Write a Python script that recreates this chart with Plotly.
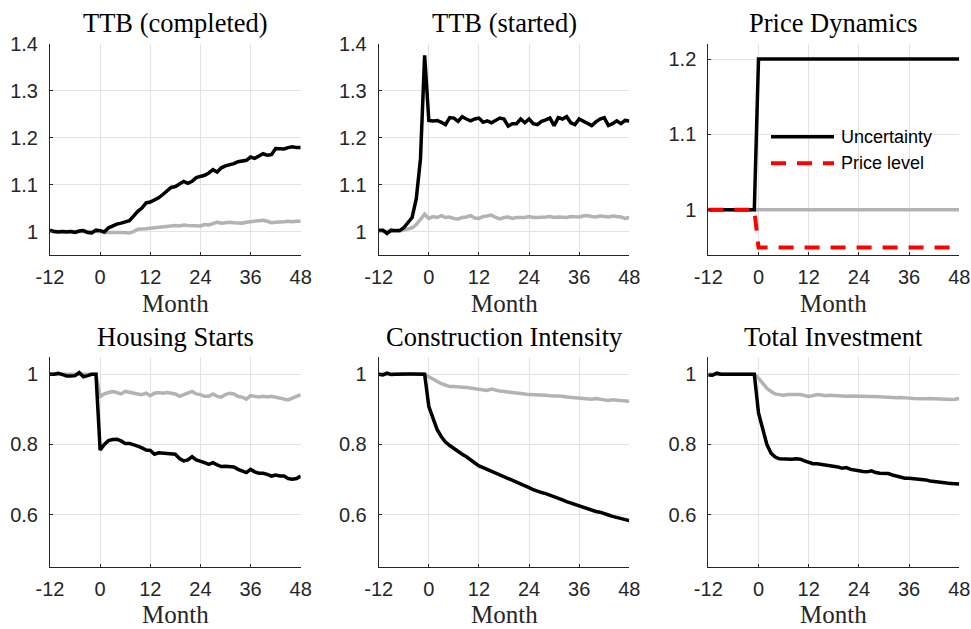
import plotly.graph_objects as go

months = list(range(-12, 49))
tick_months = [-12, 0, 12, 24, 36, 48]
tick_month_labels = ["-12", "0", "12", "24", "36", "48"]

titles = ["TTB (completed)", "TTB (started)", "Price Dynamics",
          "Housing Starts", "Construction Intensity", "Total Investment"]
legend_names = ["Uncertainty", "Price level"]

# ---- TTB (completed) ----
ttbc_black = [1.003, 1.000, 0.999, 1.000, 0.999, 1.000, 0.998, 1.001, 1.002, 0.998, 0.997, 1.003, 1.002,
              0.999, 1.008, 1.013, 1.016, 1.018, 1.021, 1.023, 1.033, 1.043, 1.050, 1.061, 1.063,
              1.067, 1.072, 1.079, 1.086, 1.094, 1.096, 1.101, 1.107, 1.103, 1.107, 1.115, 1.118,
              1.120, 1.125, 1.132, 1.127, 1.136, 1.140, 1.142, 1.145, 1.149, 1.150, 1.152, 1.159,
              1.156, 1.161, 1.166, 1.163, 1.164, 1.177, 1.177, 1.176, 1.179, 1.181, 1.179, 1.179]
ttbc_grey = [1.0] * 13 + [
              0.998, 0.998, 0.999, 0.999, 0.999, 0.998, 0.997, 1.000, 1.005, 1.005, 1.006, 1.007,
              1.008, 1.009, 1.010, 1.012, 1.012, 1.013, 1.012, 1.014, 1.013, 1.013, 1.013, 1.012,
              1.015, 1.014, 1.017, 1.020, 1.018, 1.019, 1.020, 1.019, 1.019, 1.018, 1.020, 1.021,
              1.021, 1.023, 1.024, 1.022, 1.019, 1.020, 1.020, 1.021, 1.022, 1.021, 1.022, 1.022]

# ---- TTB (started) ----
ttbs_black = [1.003, 1.003, 0.996, 1.003, 1.002, 1.002, 1.008, 1.018, 1.030, 1.070, 1.155, 1.376, 1.237,
              1.236, 1.237, 1.233, 1.228, 1.243, 1.242, 1.235, 1.245, 1.240, 1.236, 1.240, 1.242,
              1.233, 1.236, 1.232, 1.236, 1.242, 1.240, 1.225, 1.230, 1.230, 1.240, 1.232, 1.240,
              1.230, 1.228, 1.235, 1.238, 1.242, 1.226, 1.243, 1.240, 1.245, 1.232, 1.228, 1.240,
              1.236, 1.230, 1.226, 1.234, 1.240, 1.243, 1.226, 1.230, 1.236, 1.230, 1.237, 1.236]
ttbs_grey = [1.000, 1.000, 1.000, 1.000, 1.000, 1.001, 1.003, 1.005, 1.008, 1.015, 1.025, 1.037, 1.028,
             1.032, 1.030, 1.034, 1.030, 1.031, 1.028, 1.027, 1.030, 1.031, 1.034, 1.029, 1.028,
             1.032, 1.033, 1.035, 1.030, 1.027, 1.030, 1.031, 1.028, 1.030, 1.030, 1.030, 1.032,
             1.030, 1.030, 1.030, 1.031, 1.032, 1.030, 1.031, 1.031, 1.030, 1.032, 1.031, 1.031,
             1.033, 1.034, 1.032, 1.031, 1.033, 1.032, 1.031, 1.033, 1.032, 1.031, 1.028, 1.030]

# ---- Price Dynamics ----
uncertainty = [1.0] * 12 + [1.2] * 49
price_level = [1.0] * 12 + [0.95] * 49
price_grey = [1.0] * 61

# ---- Housing Starts ----
hs_black = [1.000, 1.000, 1.003, 1.000, 0.995, 0.995, 0.996, 1.005, 0.993, 0.996, 1.000, 1.000,
            0.784, 0.800, 0.811, 0.814, 0.815, 0.810, 0.803, 0.803, 0.800, 0.795, 0.790, 0.784,
            0.783, 0.772, 0.776, 0.775, 0.774, 0.774, 0.772, 0.760, 0.753, 0.756, 0.765, 0.756,
            0.753, 0.748, 0.743, 0.748, 0.742, 0.737, 0.738, 0.738, 0.736, 0.729, 0.725, 0.720,
            0.729, 0.722, 0.718, 0.718, 0.715, 0.710, 0.713, 0.710, 0.710, 0.703, 0.701, 0.703, 0.710]
hs_grey = [1.0] * 12 + [
            0.937, 0.944, 0.948, 0.951, 0.948, 0.944, 0.951, 0.948, 0.946, 0.944, 0.942, 0.946,
            0.939, 0.946, 0.948, 0.946, 0.948, 0.946, 0.944, 0.937, 0.942, 0.946, 0.951, 0.944,
            0.942, 0.937, 0.937, 0.944, 0.937, 0.935, 0.942, 0.946, 0.944, 0.937, 0.935, 0.929,
            0.939, 0.937, 0.935, 0.937, 0.935, 0.937, 0.934, 0.932, 0.930, 0.927, 0.932, 0.937, 0.942]

# ---- Construction Intensity ----
ci_black = [1.000, 0.998, 1.003, 0.999, 1.000, 1.001, 1.001, 1.001, 1.001, 1.000, 1.000, 1.000,
            0.908, 0.871, 0.842, 0.822, 0.807, 0.797, 0.788, 0.778, 0.772, 0.765, 0.756, 0.746,
            0.739, 0.734, 0.729, 0.724, 0.717, 0.712, 0.708, 0.703, 0.698, 0.693, 0.689, 0.682,
            0.677, 0.671, 0.666, 0.663, 0.660, 0.656, 0.652, 0.646, 0.642, 0.637, 0.633, 0.627,
            0.624, 0.619, 0.616, 0.612, 0.609, 0.607, 0.602, 0.599, 0.595, 0.592, 0.590, 0.586, 0.583]
ci_grey = [1.0] * 12 + [
            0.993, 0.986, 0.979, 0.973, 0.969, 0.965, 0.965, 0.963, 0.963, 0.962, 0.960, 0.958,
            0.956, 0.956, 0.954, 0.958, 0.954, 0.952, 0.951, 0.950, 0.948, 0.948, 0.946, 0.944,
            0.942, 0.942, 0.942, 0.941, 0.940, 0.939, 0.939, 0.938, 0.937, 0.935, 0.934, 0.933,
            0.934, 0.933, 0.931, 0.929, 0.931, 0.930, 0.927, 0.925, 0.927, 0.926, 0.925, 0.924, 0.923]

# ---- Total Investment ----
ti_black = [0.998, 0.997, 1.003, 1.000, 1.000, 1.000, 1.000, 1.001, 1.000, 0.999, 1.000, 1.000,
            0.890, 0.842, 0.800, 0.775, 0.764, 0.759, 0.758, 0.758, 0.758, 0.759, 0.758, 0.753,
            0.748, 0.745, 0.745, 0.743, 0.742, 0.741, 0.739, 0.736, 0.732, 0.734, 0.729, 0.726,
            0.725, 0.723, 0.722, 0.725, 0.720, 0.718, 0.718, 0.717, 0.713, 0.710, 0.708, 0.704,
            0.704, 0.703, 0.701, 0.701, 0.699, 0.696, 0.694, 0.693, 0.692, 0.690, 0.689, 0.687, 0.687]
ti_grey = [1.0] * 12 + [
            0.989, 0.975, 0.960, 0.951, 0.944, 0.942, 0.940, 0.942, 0.943, 0.942, 0.942, 0.939,
            0.937, 0.939, 0.942, 0.941, 0.939, 0.940, 0.939, 0.938, 0.939, 0.937, 0.938, 0.938,
            0.937, 0.937, 0.936, 0.937, 0.937, 0.936, 0.935, 0.934, 0.933, 0.933, 0.934, 0.932,
            0.932, 0.931, 0.930, 0.930, 0.930, 0.931, 0.930, 0.930, 0.929, 0.929, 0.928, 0.929, 0.931]

top_yticks = [1.0, 1.1, 1.2, 1.3, 1.4]
top_ylabels = ["1", "1.1", "1.2", "1.3", "1.4"]
price_yticks = [1.0, 1.1, 1.2]
price_ylabels = ["1", "1.1", "1.2"]
bot_yticks = [0.6, 0.8, 1.0]
bot_ylabels = ["0.6", "0.8", "1"]

W, H = 971, 629
BLACK = "#000000"
GREY = "rgb(179,179,179)"
RED = "#ff0000"
AXC = "#262626"
GRID = "#e3e3e3"
SANS = "Liberation Sans, Arial, sans-serif"
SERIF = "Liberation Serif, Times New Roman, serif"
RED_DASH = "15px,11px"

xdom_px = [(50, 300.7), (378.7, 629.3), (708.3, 959.3)]
ydom_px = [(44, 255), (356.7, 567.3)]

panels = [
    dict(grey=ttbc_grey, black=ttbc_black, yr=[0.95, 1.4], yt=top_yticks, yl=top_ylabels),
    dict(grey=ttbs_grey, black=ttbs_black, yr=[0.95, 1.4], yt=top_yticks, yl=top_ylabels),
    dict(grey=price_grey, black=uncertainty, red=price_level, yr=[0.94, 1.22], yt=price_yticks, yl=price_ylabels),
    dict(grey=hs_grey, black=hs_black, yr=[0.45, 1.05], yt=bot_yticks, yl=bot_ylabels),
    dict(grey=ci_grey, black=ci_black, yr=[0.45, 1.05], yt=bot_yticks, yl=bot_ylabels),
    dict(grey=ti_grey, black=ti_black, yr=[0.45, 1.05], yt=bot_yticks, yl=bot_ylabels),
]

fig = go.Figure()
annotations = []
shapes = []
layout_axes = {}
for i, p in enumerate(panels):
    n = i + 1
    xa = "x" if n == 1 else f"x{n}"
    ya = "y" if n == 1 else f"y{n}"
    row, col = divmod(i, 3)
    x0, x1 = xdom_px[col]
    y0, y1 = ydom_px[row]
    fig.add_trace(go.Scatter(x=months, y=p["grey"], mode="lines", xaxis=xa, yaxis=ya,
                             line=dict(color=GREY, width=3.5), showlegend=False, hoverinfo="skip"))
    fig.add_trace(go.Scatter(x=months, y=p["black"], mode="lines", xaxis=xa, yaxis=ya,
                             name=legend_names[0] if "red" in p else titles[i],
                             line=dict(color=BLACK, width=3.5), showlegend=False))
    if "red" in p:
        fig.add_trace(go.Scatter(x=months, y=p["red"], mode="lines", xaxis=xa, yaxis=ya,
                                 name=legend_names[1], line=dict(color=RED, width=4, dash=RED_DASH),
                                 showlegend=False))
    axkey = "xaxis" if n == 1 else f"xaxis{n}"
    aykey = "yaxis" if n == 1 else f"yaxis{n}"
    common = dict(showgrid=True, gridcolor=GRID, gridwidth=1, zeroline=False,
                  showline=True, linecolor=AXC, linewidth=1,
                  ticks="inside", ticklen=3, tickcolor=AXC, automargin=False,
                  tickfont=dict(family=SANS, size=20, color=AXC))
    layout_axes[axkey] = dict(domain=[x0 / W, x1 / W], anchor=ya, range=[-12, 48],
                              tickvals=tick_months, ticktext=tick_month_labels,
                              ticklabelstandoff=4, **common)
    layout_axes[aykey] = dict(domain=[1 - y1 / H, 1 - y0 / H], anchor=xa, range=p["yr"],
                              tickvals=p["yt"], ticktext=p["yl"],
                              ticklabelstandoff=7, **common)
    cx = (x0 + x1) / 2 / W
    ty = 23 if row == 0 else 337
    my = 303 if row == 0 else 614
    annotations.append(dict(text=titles[i], x=cx, y=1 - ty / H, xref="paper", yref="paper",
                            xanchor="center", yanchor="middle", showarrow=False,
                            font=dict(family=SERIF, size=26.5, color="#000000")))
    annotations.append(dict(text="Month", x=cx, y=1 - my / H, xref="paper", yref="paper",
                            xanchor="center", yanchor="middle", showarrow=False,
                            font=dict(family=SERIF, size=25, color=AXC)))

# legend drawn inside the Price Dynamics panel
leg_rows = [(136.7, BLACK, "solid", 3.5), (163.3, RED, RED_DASH, 4)]
for (ly, lc, ld, lw), name in zip(leg_rows, legend_names):
    shapes.append(dict(type="line", xref="paper", yref="paper",
                       x0=771 / W, x1=834 / W, y0=1 - ly / H, y1=1 - ly / H,
                       line=dict(color=lc, width=lw, dash=ld)))
    annotations.append(dict(text=name, x=839 / W, y=1 - ly / H, xref="paper", yref="paper",
                            xanchor="left", yanchor="middle", showarrow=False,
                            font=dict(family=SANS, size=18, color="#000000")))

fig.update_layout(
    width=W, height=H,
    margin=dict(l=0, r=0, t=0, b=0),
    paper_bgcolor="white", plot_bgcolor="white",
    showlegend=False,
    annotations=annotations,
    shapes=shapes,
    **layout_axes,
)

fig.write_html("out.html", config={"displayModeBar": False},
               post_script="document.body.style.margin='0';document.body.style.overflow='hidden';")
